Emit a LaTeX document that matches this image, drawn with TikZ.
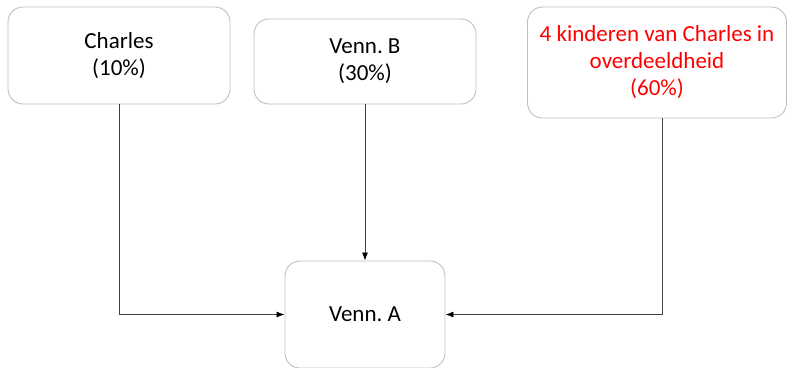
\documentclass[tikz,border=0pt]{standalone}
\usepackage{fontspec}
\setmainfont{Carlito}
\usetikzlibrary{arrows.meta}
\definecolor{boxline}{HTML}{BFBFBF}
\definecolor{conn}{HTML}{404040}
\tikzset{
  box/.style={draw=boxline, line width=0.9pt, rounded corners=15pt, align=center,
    inner sep=0pt, font=\fontsize{23}{27}\selectfont\frenchspacing, text=black},
  conn/.style={draw=conn, line width=0.8pt, -{Latex[length=8pt,width=6pt,black]}},
}
\begin{document}
\begin{tikzpicture}[x=1pt,y=-1pt]
\useasboundingbox (0,0) rectangle (787,367);
\node[box, minimum width=222pt, minimum height=97pt] (C) at (119,55.5) {Charles\\(10\%)};
\node[box, minimum width=222pt, minimum height=85pt] (B) at (365,61.5) {Venn. B\\(30\%)};
\node[box, minimum width=259pt, minimum height=111pt, text=red] (K) at (657,62.5) {4 kinderen van Charles in\\overdeeldheid\\(60\%)};
\node[box, minimum width=160pt, minimum height=107pt] (A) at (365,314.5) {Venn. A};
\draw[conn] (C.south) |- (A.west);
\draw[conn] (B.south) -- (A.north);
\draw[conn] ([xshift=5pt]K.south) |- (A.east);
\end{tikzpicture}
\end{document}
